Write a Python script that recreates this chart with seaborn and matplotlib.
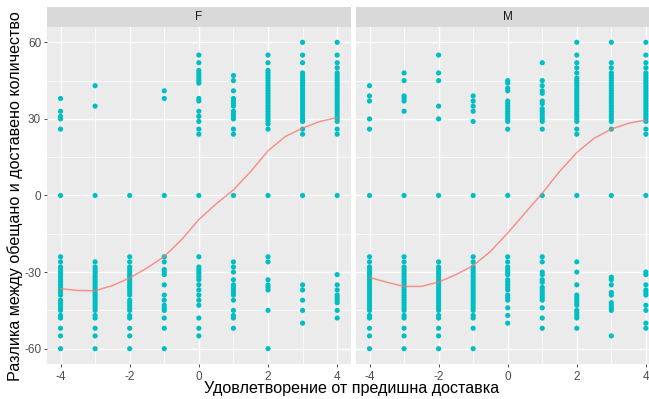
import matplotlib
matplotlib.use('Agg')
import matplotlib.pyplot as plt
import seaborn as sns
import pandas as pd

# --- data ---
x_levels = [-4, -3, -2, -1, 0, 1, 2, 3, 4]

f_values = [
    [38, 33, 31, 30, 26, 0, -24, -26, -28, -29, -30, -31, -32, -33, -34, -35, -36, -37, -38, -39,
     -41, -42, -43, -44, -45, -47, -48, -52, -55, -60],
    [43, 35, 0, -26, -28, -29, -30, -31, -32, -33, -34, -35, -36, -37, -38, -39, -40, -41, -42, -43,
     -44, -45, -47, -48, -52, -55, -60],
    [0, -24, -26, -28, -29, -30, -31, -32, -33, -34, -35, -36, -37, -38, -39, -41, -42, -43, -44, -45,
     -47, -48, -52, -55, -60],
    [41, 38, 0, -24, -26, -29, -30, -31, -35, -39, -41, -43, -44, -45, -48, -52, -60],
    [55, 52, 49, 48, 47, 46, 45, 44, 38, 37, 33, 31, 29, 26, 24, 0, -24, -28, -29, -30, -31, -32, -33,
     -35, -37, -39, -41, -43, -48, -52, -55],
    [47, 45, 41, 38, 37, 36, 35, 33, 32, 31, 30, 26, 24, 0, -26, -28, -30, -33, -35, -36, -37, -38,
     -39, -41, -45, -47, -48, -52],
    [55, 52, 49, 48, 47, 46, 45, 44, 43, 42, 41, 40, 39, 38, 37, 36, 35, 34, 33, 32, 31, 30, 29, 28,
     26, 0, -24, -26, -33, -35, -36, -37, -45, -60],
    [60, 55, 52, 48, 47, 46, 45, 44, 43, 42, 41, 40, 39, 38, 37, 36, 35, 34, 33, 32, 31, 30, 29, 26,
     24, 0, -35, -37, -41, -45, -50],
    [60, 55, 52, 50, 48, 47, 46, 45, 44, 43, 42, 41, 40, 39, 38, 37, 36, 35, 34, 33, 32, 31, 30, 29,
     26, 24, 0, -31, -35, -37, -39, -40, -41, -42, -45, -48],
]

m_values = [
    [43, 39, 37, 30, 26, 0, -24, -26, -28, -29, -30, -31, -32, -33, -34, -35, -36, -37, -38, -39, -40,
     -41, -42, -43, -44, -45, -47, -48, -52, -55, -60],
    [48, 45, 39, 38, 37, 33, 0, -24, -26, -28, -29, -30, -31, -32, -33, -34, -35, -36, -37, -38, -39,
     -40, -41, -42, -43, -44, -45, -47, -48, -52, -55, -60],
    [55, 48, 45, 35, 30, 0, -26, -28, -29, -30, -31, -32, -33, -34, -35, -36, -37, -38, -39, -40, -41,
     -42, -43, -44, -45, -47, -48, -52, -55, -60],
    [39, 37, 35, 33, 29, 0, -24, -26, -28, -29, -30, -31, -32, -33, -34, -35, -36, -37, -38, -39, -40,
     -41, -42, -43, -44, -45, -47, -48, -52, -60],
    [45, 44, 42, 41, 37, 36, 35, 34, 33, 32, 31, 30, 29, 26, 0, -24, -26, -28, -29, -30, -31, -33, -34,
     -35, -36, -37, -39, -40, -41, -44, -47, -50],
    [52, 45, 43, 41, 40, 37, 36, 34, 33, 32, 31, 30, 29, 26, 0, -24, -26, -30, -31, -33, -34, -36, -37,
     -38, -39, -40, -41, -44, -48, -52],
    [60, 55, 52, 50, 48, 46, 45, 44, 43, 42, 41, 40, 39, 38, 37, 36, 35, 34, 33, 32, 31, 30, 29, 26, 24,
     0, -26, -30, -35, -39, -40, -41, -42, -43, -45, -46, -47, -48, -52],
    [60, 52, 50, 48, 47, 46, 45, 44, 43, 42, 41, 40, 39, 38, 37, 36, 35, 34, 33, 32, 31, 30, 29, 26, 0,
     -32, -33, -35, -38, -39, -42, -43, -44, -45, -55],
    [60, 55, 52, 50, 48, 47, 46, 45, 44, 43, 42, 41, 40, 39, 38, 37, 36, 35, 34, 33, 32, 31, 30, 29, 26,
     24, 0, -30, -31, -35, -37, -38, -39, -43, -45, -50, -52],
]

# loess curve, read at half steps
smooth_x = [-4, -3.5, -3, -2.5, -2, -1.5, -1, -0.5, 0, 0.5, 1, 1.5, 2, 2.5, 3, 3.5, 4]
smooth_f = [-36.5, -37.2, -37.3, -35.3, -32.3, -28.4, -23.9, -17.3, -9.4, -3.3, 2.2, 9.4, 17.5, 23.1, 26.4, 29.0, 30.5]
smooth_m = [-32.1, -34.0, -35.6, -35.6, -33.9, -31.0, -27.5, -21.9, -14.7, -6.9, 0.9, 9.4, 16.8, 22.4, 26.0, 28.3, 29.6]

rows = []
for gender, values in [('F', f_values), ('M', m_values)]:
    for x, ys in zip(x_levels, values):
        for y in ys:
            rows.append({'gender': gender, 'x': x, 'y': y})
df = pd.DataFrame(rows)

smooth = pd.DataFrame({
    'gender': ['F'] * len(smooth_x) + ['M'] * len(smooth_x),
    'x': smooth_x + smooth_x,
    'y': smooth_f + smooth_m,
})

# --- ggplot-like look ---
sns.set_style('darkgrid', {'axes.facecolor': '#EBEBEB', 'grid.color': 'white'})
plt.rcParams['font.family'] = ['Liberation Sans', 'DejaVu Sans']
plt.rcParams['axes.unicode_minus'] = False

fig = plt.figure(figsize=(6.49, 3.99), dpi=100)
W, H = 649, 399
panel_top, panel_bot = 27, 364
panels = {'F': (46.7, 351.0), 'M': (355.7, 659.7)}

for gender, (left, right) in panels.items():
    ax = fig.add_axes([left / W, 1 - panel_bot / H, (right - left) / W, (panel_bot - panel_top) / H])
    sub = df[df['gender'] == gender]
    sns.scatterplot(data=sub, x='x', y='y', ax=ax, color='#00BFC4', s=14,
                    edgecolor='none', linewidth=0, zorder=3)
    sns.lineplot(data=smooth[smooth['gender'] == gender], x='x', y='y', ax=ax,
                 color='#F8766D', linewidth=1.1, zorder=4, alpha=0.75)

    ax.set_xlim(-4.4, 4.4)
    ax.set_ylim(-66, 66)
    ax.set_xticks([-4, -2, 0, 2, 4])
    ax.set_xticks([-3, -1, 1, 3], minor=True)
    ax.set_yticks([-60, -30, 0, 30, 60])
    ax.set_yticks([-45, -15, 15, 45], minor=True)
    ax.grid(True, which='major', color='white', linewidth=1.0)
    ax.grid(True, which='minor', color='white', linewidth=0.5)
    for s in ax.spines.values():
        s.set_visible(False)
    ax.set_xlabel('')
    ax.set_ylabel('')
    ax.tick_params(axis='x', which='major', length=2.5, width=0.6, color='#333333',
                   labelsize=8.5, labelcolor='#4D4D4D', pad=2.5, bottom=True)
    ax.tick_params(which='minor', length=0)
    if gender == 'F':
        ax.tick_params(axis='y', which='major', length=2.5, width=0.6, color='#333333',
                       labelsize=8.5, labelcolor='#4D4D4D', pad=1.5, left=True)
    else:
        ax.tick_params(axis='y', which='major', length=0, labelleft=False)

    # facet strip
    strip = fig.add_axes([left / W, 1 - panel_top / H, (right - left) / W, 20 / H])
    strip.set_facecolor('#D9D9D9')
    strip.set_xticks([])
    strip.set_yticks([])
    for s in strip.spines.values():
        s.set_visible(False)
    strip.text(0.5, 0.5, gender, ha='center', va='center', fontsize=8.5, color='#1A1A1A')

fig.text(352 / W, 1 - 389 / H, 'Удовлетворение от предишна доставка',
         ha='center', va='center', fontsize=11.6, color='black')
fig.text(15 / W, 1 - 196 / H, 'Разлика между обещано и доставено количество',
         ha='center', va='center', rotation=90, fontsize=11.6, color='black')

plt.savefig('out.png', dpi=100)
